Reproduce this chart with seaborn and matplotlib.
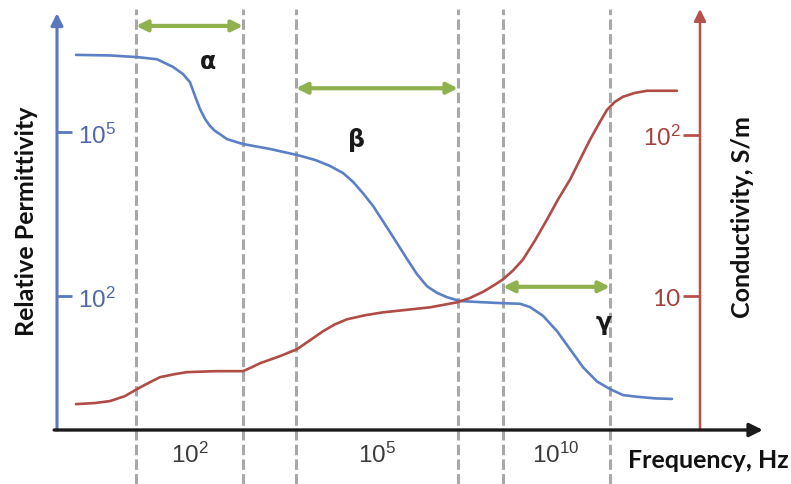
import numpy as np
import matplotlib
matplotlib.use('Agg')
import matplotlib.pyplot as plt
from matplotlib.ticker import NullLocator
import seaborn as sns

sns.set_style('white')
plt.rcParams['font.family'] = ['Lato', 'DejaVu Sans']
plt.rcParams['mathtext.fontset'] = 'custom'
plt.rcParams['mathtext.rm'] = 'Liberation Sans'
plt.rcParams['mathtext.it'] = 'Liberation Sans:italic'
plt.rcParams['mathtext.bf'] = 'Liberation Sans:bold'

# schematic frequency position (arbitrary units along the axis)
blue_pos = [76, 110, 137, 157, 173, 183, 190, 195, 200, 205, 210, 215, 220, 227, 243, 270,
            297, 315, 330, 343, 353, 363, 373, 390, 407, 417, 427, 437, 447, 460,
            480, 503, 520, 530, 543, 557, 570, 583, 597, 610, 623, 637, 655, 672]
# log10 of relative permittivity
blue_exp = [6.41, 6.40, 6.37, 6.33, 6.19, 6.06, 5.91, 5.66, 5.42, 5.24, 5.11, 5.02, 4.96, 4.87, 4.78, 4.69,
            4.58, 4.49, 4.38, 4.25, 4.09, 3.88, 3.65, 3.17, 2.68, 2.40, 2.18, 2.06, 1.98, 1.91,
            1.89, 1.87, 1.86, 1.80, 1.64, 1.36, 1.03, 0.70, 0.44, 0.30, 0.19, 0.16, 0.13, 0.12]

red_pos = [76, 95, 110, 125, 137, 150, 160, 175, 187, 215, 243, 252, 260, 280, 297,
           310, 323, 335, 347, 365, 383, 430, 457, 470, 483, 493, 503, 513, 523,
           535, 547, 558, 570, 580, 590, 600, 607, 615, 623, 635, 647, 677]
# log10 of conductivity (S/m)
red_exp = [0.333, 0.340, 0.352, 0.383, 0.426, 0.469, 0.500, 0.519, 0.531, 0.537, 0.537, 0.562, 0.586, 0.630, 0.673,
           0.728, 0.784, 0.827, 0.858, 0.883, 0.901, 0.932, 0.963, 0.990, 1.028, 1.065, 1.105, 1.160, 1.228,
           1.346, 1.475, 1.599, 1.722, 1.846, 1.969, 2.080, 2.154, 2.204, 2.235, 2.259, 2.272, 2.272]

dash_pos = [136, 243, 296, 458, 503, 610]
regions = ['α', 'β', 'γ']
region_start = [136, 296, 503]
region_end = [243, 458, 610]
region_arrow_exp = [6.94, 5.80, 2.17]
region_label_pos = [208, 357, 604]
region_label_exp = [6.30, 4.87, 1.53]

freq_ticks = [190, 377, 556]
freq_labels = ['$10^{2}$', '$10^{5}$', '$10^{10}$']
perm_ticks = [1e2, 1e5]
perm_labels = ['$10^{2}$', '$10^{5}$']
cond_ticks = [1e1, 1e2]
cond_labels = ['10', '$10^{2}$']

blue = '#5b80c6'
blue_axis = '#5a78bd'
blue_txt = '#4d66ab'
red = '#b04b45'
red_axis = '#b5524e'
red_txt = '#a23f3a'
green = '#8fb24e'
gray = '#a8a8a8'

fig = plt.figure(figsize=(7.91, 4.85), dpi=100)
ax = fig.add_axes([57 / 791, 54 / 485, 708 / 791, 421 / 485])
ax.set_xlim(57, 765)
ax.set_yscale('log')
ax.set_ylim(10 ** -0.448, 10 ** 7.249)

ax2 = ax.twinx()
ax2.set_yscale('log')
ax2.set_ylim(10 ** 0.173, 10 ** 2.778)

for a in (ax, ax2):
    for s in a.spines.values():
        s.set_visible(False)
    a.yaxis.set_minor_locator(NullLocator())
    a.patch.set_visible(False)

# dashed region boundaries
for x in dash_pos:
    ax.axvline(x, ymin=-54 / 421, ymax=(431 - 10) / 421, color=gray, lw=2.2,
               dashes=(3.4, 1.4), clip_on=False, zorder=1)

sns.lineplot(x=blue_pos, y=10 ** np.array(blue_exp), ax=ax, color=blue, linewidth=1.9, zorder=3)
sns.lineplot(x=red_pos, y=10 ** np.array(red_exp), ax=ax2, color=red, linewidth=1.9, zorder=3)

# axis lines with arrowheads
ax.annotate('', xy=(0.997, 0), xytext=(-0.004, 0), xycoords='axes fraction',
            arrowprops=dict(arrowstyle='-|>', color='#1a1a1a', lw=2.4, mutation_scale=20,
                            shrinkA=0, shrinkB=0), annotation_clip=False, zorder=5)
ax.annotate('', xy=(0, 0.99), xytext=(0, 0), xycoords='axes fraction',
            arrowprops=dict(arrowstyle='-|>', color=blue_axis, lw=2.2, mutation_scale=18,
                            shrinkA=0, shrinkB=0), annotation_clip=False, zorder=4)
ax.annotate('', xy=((700 - 57) / 708, 1.0), xytext=((700 - 57) / 708, 0), xycoords='axes fraction',
            arrowprops=dict(arrowstyle='-|>', color=red_axis, lw=1.8, mutation_scale=18,
                            shrinkA=0, shrinkB=0), annotation_clip=False, zorder=4)

# region arrows and labels
for name, x0, x1, ya, xl, yl in zip(regions, region_start, region_end, region_arrow_exp,
                                    region_label_pos, region_label_exp):
    ax.annotate('', xy=(x1, 10 ** ya), xytext=(x0, 10 ** ya),
                arrowprops=dict(arrowstyle='<|-|>', color=green, lw=3, mutation_scale=16,
                                shrinkA=0, shrinkB=0), zorder=4)
    ax.text(xl, 10 ** yl, name, fontsize=17, fontweight='bold', color='#1a1a1a',
            ha='center', va='center', family=['DejaVu Sans'])

# ticks
ax.set_xticks(freq_ticks)
ax.set_xticklabels(freq_labels)
ax.tick_params(axis='x', direction='in', length=9, width=2, color='#1a1a1a',
               pad=8, labelsize=17.5, labelcolor='#3a3a3a')

ax.set_yticks(perm_ticks)
ax.set_yticklabels(perm_labels)
ax.tick_params(axis='y', direction='in', length=11, width=2, color=blue_axis,
               pad=-15, labelsize=17.5, labelcolor=blue_txt)
for lab in ax.get_yticklabels():
    lab.set_ha('left')

ax2.yaxis.set_ticks_position('left')
ax2.spines['left'].set_position(('axes', (700 - 57) / 708))
ax2.set_yticks(cond_ticks)
ax2.set_yticklabels(cond_labels)
ax2.tick_params(axis='y', direction='out', length=12, width=2, color=red_axis,
                pad=2, labelsize=17.5, labelcolor=red_txt)

fig.text(27 / 791, 1 - 221 / 485, 'Relative Permittivity', rotation=90, fontsize=18,
         fontweight='bold', ha='center', va='center', color='#111111')
fig.text(743 / 791, 1 - 217 / 485, 'Conductivity, S/m', rotation=90, fontsize=18,
         fontweight='bold', ha='center', va='center', color='#111111')
fig.text(708 / 791, 1 - 461 / 485, 'Frequency, Hz', fontsize=18,
         fontweight='bold', ha='center', va='center', color='#111111')

fig.savefig('out.png', dpi=100)
